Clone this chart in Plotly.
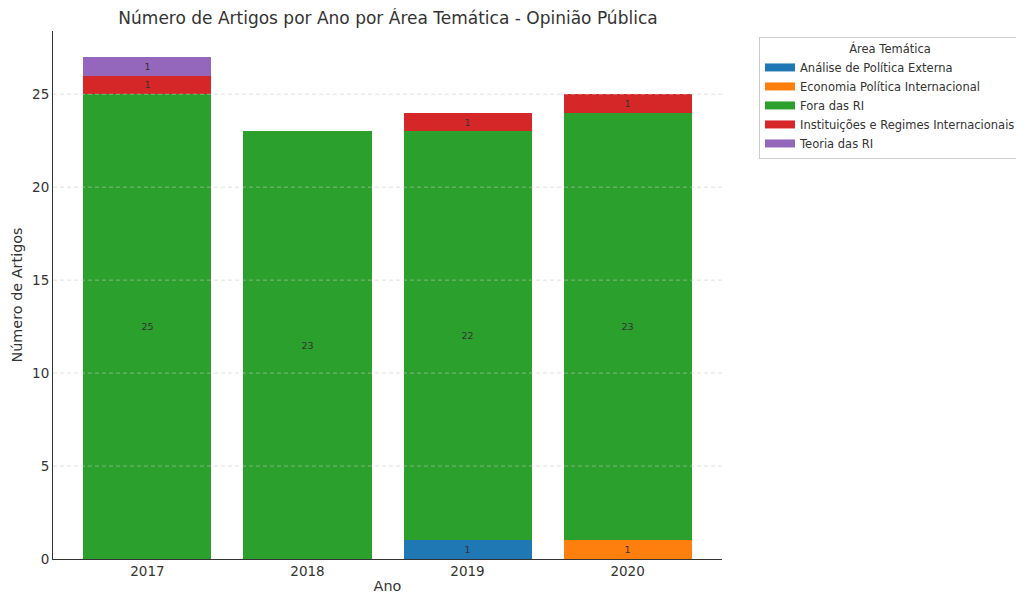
import plotly.graph_objects as go

anos = ["2017", "2018", "2019", "2020"]
series_names = [
    "Análise de Política Externa",
    "Economia Política Internacional",
    "Fora das RI",
    "Instituições e Regimes Internacionais",
    "Teoria das RI",
]
analise = [0, 0, 1, 0]
economia = [0, 0, 0, 1]
fora = [25, 23, 22, 23]
instituicoes = [1, 0, 1, 1]
teoria = [1, 0, 0, 0]
colors = ["#1f77b4", "#ff7f0e", "#2ca02c", "#d62728", "#9467bd"]
y_ticks = [0, 5, 10, 15, 20, 25]

values = [analise, economia, fora, instituicoes, teoria]
FONT = "DejaVu Sans"

fig = go.Figure()
for name, vals, col in zip(series_names, values, colors):
    fig.add_trace(go.Bar(
        x=anos, y=vals, name=name, marker=dict(color=col, line=dict(width=0)),
        text=[str(v) if v > 0 else "" for v in vals],
        textposition="inside", insidetextanchor="middle",
        textfont=dict(size=9.5, color="#333333", family=FONT),
        constraintext="none", width=0.8, showlegend=False,
    ))
# legend entries (rectangular swatches like matplotlib)
for name, col in zip(series_names, colors):
    fig.add_trace(go.Scatter(
        x=[None], y=[None], mode="lines", name=name,
        line=dict(color=col, width=8), showlegend=True, hoverinfo="skip",
    ))

# dashed grid drawn above the bars, as in the reference
grid_col = "rgba(200,200,200,0.55)"
for t in y_ticks[1:]:
    fig.add_shape(type="line", xref="paper", x0=0, x1=1, yref="y", y0=t, y1=t,
                  line=dict(color=grid_col, width=1, dash="4px,3px"), layer="above")
for a in anos:
    fig.add_shape(type="line", xref="x", x0=a, x1=a, yref="paper", y0=0, y1=1,
                  line=dict(color=grid_col, width=1, dash="4px,3px"), layer="above")

# the page adds an 8px body margin, so the figure is 8px smaller and margins offset
W, H = 1016, 586
L, R, T, B = 45, 302, 23, 35
plot_w = W - L - R
plot_h = H - T - B

fig.update_layout(
    barmode="stack",
    width=W, height=H,
    paper_bgcolor="white", plot_bgcolor="white",
    margin=dict(l=L, r=R, t=T, b=B, autoexpand=False),
    font=dict(family=FONT, color="#333333"),
    title=dict(text="Número de Artigos por Ano por Área Temática - Opinião Pública",
               x=380 / W, xanchor="center", yref="container", y=1 - 10 / H, yanchor="middle",
               font=dict(size=17, color="#333333")),
    showlegend=True,
    legend=dict(
        title=dict(text="Área Temática", side="top center", font=dict(size=11.5)),
        x=(751 - L) / plot_w, y=1 - 6 / plot_h, xanchor="left", yanchor="top",
        bordercolor="#cccccc", borderwidth=1, bgcolor="white",
        font=dict(size=11.5, color="#333333"), tracegroupgap=0,
        traceorder="normal", itemwidth=30,
    ),
    bargap=0.2,
)
fig.update_xaxes(
    range=[-0.59, 3.59], showline=True, linecolor="#333333", linewidth=1,
    ticks="", showgrid=False, automargin=False,
    tickfont=dict(size=13.5), title=dict(text="Ano", font=dict(size=14.4), standoff=4),
)
fig.update_yaxes(
    range=[0, 28.4], showline=True, linecolor="#333333", linewidth=1,
    ticks="", tickvals=y_ticks,
    showgrid=False, automargin=False,
    tickfont=dict(size=13.5), title=dict(text="Número de Artigos", font=dict(size=14.4), standoff=6),
    zeroline=False,
)

fig.write_html("out.html")
